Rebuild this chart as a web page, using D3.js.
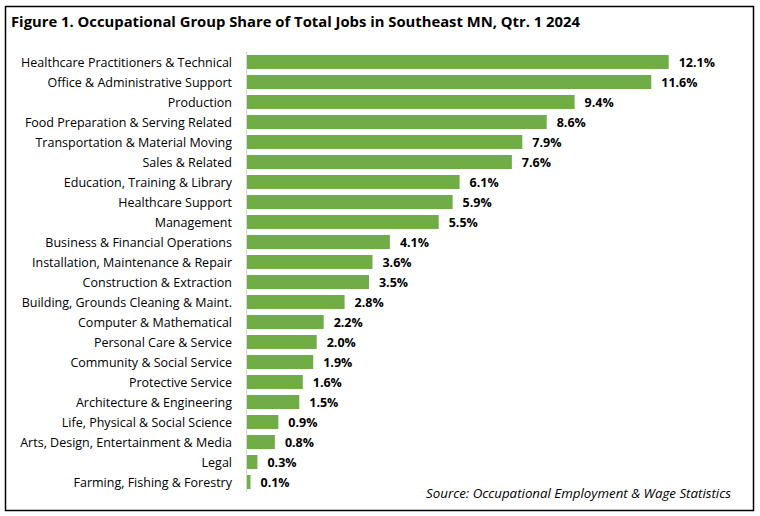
<!DOCTYPE html>
<meta charset="utf-8">
<style>
  body { margin: 0; background: #fff; }
  svg { display: block; }
  .cat { font: 12.5px "Open Sans", sans-serif; fill: #000; text-anchor: end; }
  .val { font: bold 12.5px "Open Sans", sans-serif; fill: #000; }
  .title { font: bold 14.8px "Open Sans", sans-serif; fill: #000; }
  .source { font: italic 13.3px "Open Sans", sans-serif; fill: #000; text-anchor: end; }
</style>
<body>
<svg width="760" height="516"></svg>
<script src="https://cdnjs.cloudflare.com/ajax/libs/d3/7.8.5/d3.min.js"></script>
<script>

var categories = [
  "Healthcare Practitioners & Technical",
  "Office & Administrative Support",
  "Production",
  "Food Preparation & Serving Related",
  "Transportation & Material Moving",
  "Sales & Related",
  "Education, Training & Library",
  "Healthcare Support",
  "Management",
  "Business & Financial Operations",
  "Installation, Maintenance & Repair",
  "Construction & Extraction",
  "Building, Grounds Cleaning & Maint.",
  "Computer & Mathematical",
  "Personal Care & Service",
  "Community & Social Service",
  "Protective Service",
  "Architecture & Engineering",
  "Life, Physical & Social Science",
  "Arts, Design, Entertainment & Media",
  "Legal",
  "Farming, Fishing & Forestry"
];
var shares = [12.1, 11.6, 9.4, 8.6, 7.9, 7.6, 6.1, 5.9, 5.5, 4.1, 3.6, 3.5, 2.8, 2.2, 2.0, 1.9, 1.6, 1.5, 0.9, 0.8, 0.3, 0.1];

var svg = d3.select("svg");

// frame
svg.append("rect")
    .attr("x", 5.5).attr("y", 6.5)
    .attr("width", 748).attr("height", 504)
    .attr("fill", "none").attr("stroke", "#000").attr("stroke-width", 1.5);

svg.append("text")
    .attr("class", "title")
    .attr("x", 11).attr("y", 27)
    .text("Figure 1. Occupational Group Share of Total Jobs in Southeast MN, Qtr. 1 2024");

var x = d3.scaleLinear().domain([0, 14]).range([247, 247 + 14 * 34.85]);
var y = d3.scaleBand().domain(categories).range([52, 492]).paddingInner(0.3).paddingOuter(0.15);

var rows = svg.append("g").selectAll("g")
    .data(categories)
  .enter().append("g");

rows.append("rect")
    .attr("x", x(0))
    .attr("y", function(d) { return y(d); })
    .attr("width", function(d, i) { return x(shares[i]) - x(0); })
    .attr("height", y.bandwidth())
    .attr("fill", "#70ad47");

rows.append("text")
    .attr("class", "val")
    .attr("x", function(d, i) { return x(shares[i]) + 10; })
    .attr("y", function(d) { return y(d) + y.bandwidth() / 2; })
    .attr("dy", "0.36em")
    .text(function(d, i) { return shares[i].toFixed(1) + "%"; });

rows.append("text")
    .attr("class", "cat")
    .attr("x", 232)
    .attr("y", function(d) { return y(d) + y.bandwidth() / 2; })
    .attr("dy", "0.36em")
    .text(function(d) { return d; });

// category axis line
svg.append("line")
    .attr("x1", 246.5).attr("x2", 246.5)
    .attr("y1", 52).attr("y2", 492)
    .attr("stroke", "#d9d9d9");

svg.append("text")
    .attr("class", "source")
    .attr("x", 731).attr("y", 498)
    .text("Source: Occupational Employment & Wage Statistics");

</script>
</body>
